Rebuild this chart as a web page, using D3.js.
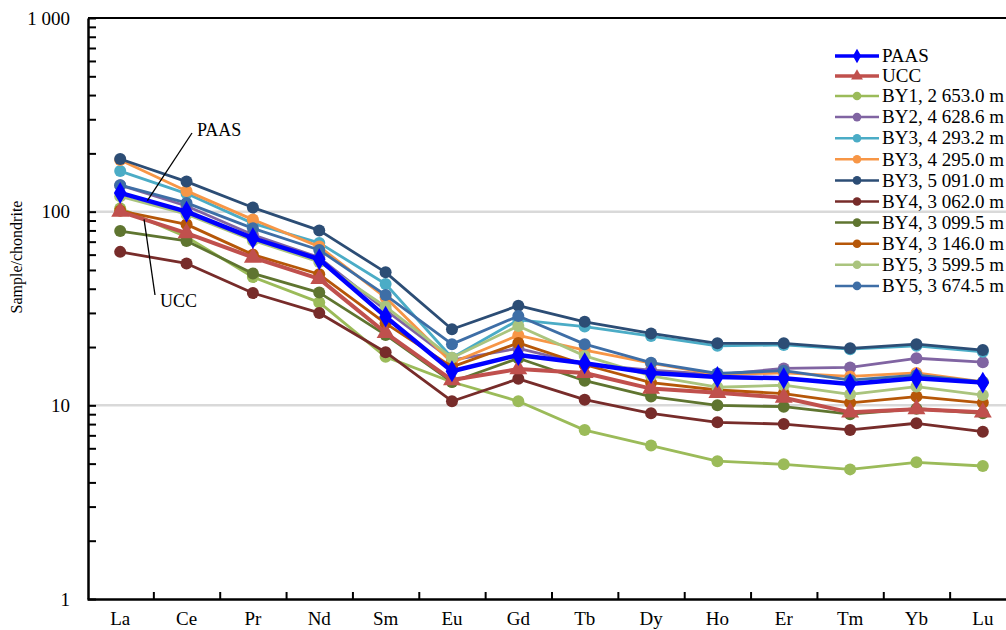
<!DOCTYPE html>
<html>
<head>
<meta charset="utf-8">
<script src="https://cdn.jsdelivr.net/npm/d3@7"></script>
<style>
  html, body { margin: 0; padding: 0; background: #fff; }
  svg { display: block; }
  svg text { font-family: "Liberation Serif", "Times New Roman", "DejaVu Serif", serif; fill: #000; }
</style>
</head>
<body>
<svg id="chart" width="1006" height="630"></svg>
<script>
// REE categories
const elements = ["La", "Ce", "Pr", "Nd", "Sm", "Eu", "Gd", "Tb", "Dy", "Ho", "Er", "Tm", "Yb", "Lu"];

// chondrite-normalised values
const paas = [125, 100, 73, 56.8, 28.7, 15.0, 18.2, 16.5, 14.7, 14.0, 13.8, 12.9, 13.8, 13.1];
const ucc = [100, 77.5, 58, 45, 23.7, 13.5, 15.4, 14.7, 12.2, 11.6, 10.95, 9.2, 9.55, 9.2];
const by1_2653 = [104, 74, 46, 34, 17.8, 13.2, 10.5, 7.45, 6.2, 5.15, 4.96, 4.67, 5.08, 4.86];
const by2_4628 = [137, 107, 76, 58, 31, 17.1, 19.7, 16.3, 15.2, 14.4, 15.5, 15.7, 17.5, 16.7];
const by3_4293 = [162, 124, 87, 69, 42.3, 17.6, 27.6, 25.5, 22.8, 20.3, 20.5, 19.5, 20.3, 18.9];
const by3_4295 = [185, 128, 91, 66, 36, 16.6, 23, 19.3, 16.5, 14.4, 14.7, 14.1, 14.7, 13.2];
const by3_5091 = [187, 143, 105, 80, 48.6, 24.7, 32.7, 27, 23.5, 20.9, 20.9, 19.7, 20.7, 19.3];
const by4_3062 = [62, 54, 38, 30, 18.8, 10.5, 13.7, 10.7, 9.1, 8.17, 8.0, 7.46, 8.08, 7.31];
const by4_3099 = [79.4, 70.6, 48, 38.2, 23.1, 13.2, 17.5, 13.4, 11.1, 10.0, 9.84, 9.0, 9.6, 9.1];
const by4_3146 = [101, 86, 60, 47.5, 26.5, 15.8, 21, 16.2, 13.1, 12.0, 11.5, 10.3, 11.1, 10.3];
const by5_3599 = [120, 97, 71, 55, 32.3, 17.6, 25.7, 18.0, 14.2, 12.4, 12.7, 11.4, 12.5, 11.3];
const by5_3674 = [137, 111, 82, 63.4, 37.1, 20.7, 28.9, 20.7, 16.6, 14.6, 15.1, 13.5, 14.3, 13.2];

const seriesNames = [
  "PAAS", "UCC",
  "BY1, 2 653.0 m", "BY2, 4 628.6 m", "BY3, 4 293.2 m", "BY3, 4 295.0 m",
  "BY3, 5 091.0 m", "BY4, 3 062.0 m", "BY4, 3 099.5 m", "BY4, 3 146.0 m",
  "BY5, 3 599.5 m", "BY5, 3 674.5 m"
];
const seriesValues = [
  paas, ucc, by1_2653, by2_4628, by3_4293, by3_4295,
  by3_5091, by4_3062, by4_3099, by4_3146, by5_3599, by5_3674
];
const seriesColors = [
  "#0000ff", "#c0504d", "#9bbb59", "#8064a2", "#4bacc6", "#f79646",
  "#2c4d75", "#772c2a", "#5f7530", "#b65708", "#aac47e", "#3e6ea6"
];

const yTicks = [1, 10, 100, 1000];

const series = seriesNames.map((name, i) => ({
  name,
  values: seriesValues[i],
  color: seriesColors[i],
  shape: name === "PAAS" ? "diamond" : name === "UCC" ? "triangle" : "circle",
  width: name === "PAAS" ? 4.5 : name === "UCC" ? 4 : 2.8
}));

const svg = d3.select("#chart");
const margin = { top: 18, left: 88, bottom: 31 };
const height = 630;
const serif = "Liberation Serif, Times New Roman, DejaVu Serif, serif";

const x = d3.scaleBand()
  .domain(elements)
  .range([87, 1016]);
const y = d3.scaleLog()
  .domain([1, 1000])
  .range([height - margin.bottom, margin.top]);
const cx = d => x(d) + x.bandwidth() / 2;

// gridlines at 10 and 100
svg.append("g")
  .selectAll("line")
  .data([10, 100])
  .join("line")
  .attr("x1", margin.left)
  .attr("x2", 1016)
  .attr("y1", d => y(d))
  .attr("y2", d => y(d))
  .attr("stroke", "#d9d9d9")
  .attr("stroke-width", 2.5);

// top frame line
svg.append("line")
  .attr("x1", margin.left).attr("x2", 1016)
  .attr("y1", y(1000)).attr("y2", y(1000))
  .attr("stroke", "#000").attr("stroke-width", 2);

// y axis
const fmt = d3.formatLocale({ decimal: ".", thousands: " ", grouping: [3], currency: ["", ""] }).format(",");
const yAxis = svg.append("g")
  .attr("transform", `translate(${margin.left},0)`)
  .call(d3.axisLeft(y).tickValues(yTicks).tickFormat(fmt).tickSizeInner(-8).tickSizeOuter(0).tickPadding(18));
const minor = [];
[1, 10, 100].forEach(dec => d3.range(2, 10).forEach(k => minor.push(dec * k)));
svg.append("g")
  .attr("transform", `translate(${margin.left},0)`)
  .call(d3.axisLeft(y).tickValues(minor).tickFormat("").tickSizeInner(-8).tickSizeOuter(0))
  .call(g => g.select(".domain").remove());
svg.selectAll(".tick line").attr("stroke", "#000").attr("stroke-width", 2);
yAxis.attr("font-family", serif);
yAxis.select(".domain").attr("stroke-width", 2.5);
yAxis.selectAll("text")
  .attr("font-family", serif)
  .attr("font-size", 19)
  .attr("fill", "#000");

// x axis: labels at band centres, tick marks at band boundaries
const xAxis = svg.append("g")
  .attr("transform", `translate(0,${y(1)})`)
  .call(d3.axisBottom(x).tickSize(0).tickPadding(13));
xAxis.attr("font-family", serif);
xAxis.select(".domain").attr("stroke-width", 2.5);
xAxis.selectAll("text")
  .attr("font-family", serif)
  .attr("font-size", 19)
  .attr("fill", "#000");
const xb = d3.scaleLinear().domain([0, elements.length]).range(x.range());
svg.append("g")
  .attr("transform", `translate(0,${y(1)})`)
  .call(d3.axisBottom(xb).tickValues(d3.range(1, elements.length)).tickFormat("").tickSizeInner(-7).tickSizeOuter(0))
  .call(g => g.select(".domain").remove())
  .selectAll(".tick line").attr("stroke", "#000").attr("stroke-width", 2);

// y axis title
svg.append("text")
  .attr("transform", `translate(22,257) rotate(-90)`)
  .attr("text-anchor", "middle")
  .attr("font-family", serif)
  .attr("font-size", 16)
  .text("Sample/chondrite");

// marker builder
function marker(sel, shape, size) {
  if (shape === "circle") {
    return sel.append("circle").attr("r", size);
  }
  const sym = shape === "diamond" ? d3.symbolDiamond : d3.symbolTriangle;
  return sel.append("path").attr("d", d3.symbol(sym, size * size * 3)());
}

// lines: samples first, then UCC, then PAAS on top
const line = d3.line()
  .x((d, i) => cx(elements[i]))
  .y(d => y(d));
const drawOrder = series.slice(2).concat([series[1], series[0]]);
drawOrder.forEach(s => {
  const g = svg.append("g");
  g.append("path")
    .attr("d", line(s.values))
    .attr("fill", "none")
    .attr("stroke", s.color)
    .attr("stroke-width", s.width)
    .attr("stroke-linejoin", "round");
  s.values.forEach((v, i) => {
    const m = g.append("g").attr("transform", `translate(${cx(elements[i])},${y(v)})`);
    marker(m, s.shape, s.shape === "circle" ? 6 : 6.8).attr("fill", s.color);
  });
});

// annotations with leader lines to the reference curves
function pointOn(vals, f) {
  const lv = Math.log10(vals[0]) + f * (Math.log10(vals[1]) - Math.log10(vals[0]));
  return [cx(elements[0]) + f * x.step(), y(Math.pow(10, lv))];
}
const pPaas = pointOn(paas, 0.41);
svg.append("line")
  .attr("x1", 192).attr("y1", 133)
  .attr("x2", pPaas[0]).attr("y2", pPaas[1])
  .attr("stroke", "#000").attr("stroke-width", 1.3);
svg.append("text").attr("x", 197).attr("y", 136)
  .attr("font-family", serif).attr("font-size", 18).text("PAAS");
const pUcc = pointOn(ucc, 0.36);
svg.append("line")
  .attr("x1", pUcc[0]).attr("y1", pUcc[1])
  .attr("x2", 155).attr("y2", 295)
  .attr("stroke", "#000").attr("stroke-width", 1.3);
svg.append("text").attr("x", 160).attr("y", 307)
  .attr("font-family", serif).attr("font-size", 18).text("UCC");

// legend
const legend = svg.append("g").attr("transform", "translate(835,0)");
series.forEach((s, i) => {
  const ly = i === 0 ? 56 : i === 1 ? 76 : 96 + (i - 2) * 21.1;
  const row = legend.append("g").attr("transform", `translate(0,${ly})`);
  row.append("line")
    .attr("x1", 0).attr("x2", 44)
    .attr("stroke", s.color)
    .attr("stroke-width", s.shape === "circle" ? 2.5 : 3.5);
  const m = row.append("g").attr("transform", "translate(22,0)");
  marker(m, s.shape, s.shape === "circle" ? 4.3 : 4.5).attr("fill", s.color);
  row.append("text")
    .attr("x", 47)
    .attr("dy", "0.33em")
    .attr("font-family", serif)
    .attr("font-size", 19)
    .text(s.name);
});
</script>
</body>
</html>
